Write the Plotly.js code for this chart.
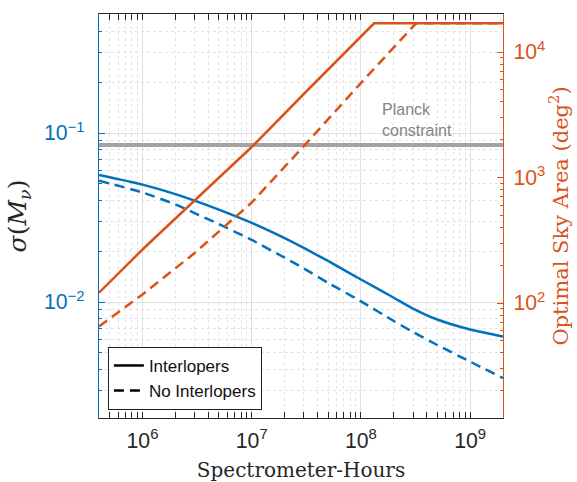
<!DOCTYPE html>
<html>
<head>
<meta charset="utf-8">
<script src="https://cdn.plot.ly/plotly-3.0.1.min.js"></script>
<style>html,body{margin:0;padding:0;background:#fff;}#chart{width:577px;height:482px;}</style>
</head>
<body>
<div id="chart"></div>
<script>
// Spectrometer-hours sample points for sigma curves
const hoursSigma = [4e5, 1e6, 2e6, 3e6, 5e6, 1e7, 2e7, 3e7, 5e7, 1e8, 2e8, 3e8, 5e8, 1e9, 2e9];
// sigma(M_nu), left axis
const sigmaInterlopers   = [0.0564, 0.0495, 0.0435, 0.0398, 0.0352, 0.0294, 0.0239, 0.0209, 0.0175, 0.0136, 0.0106, 0.00915, 0.00788, 0.00688, 0.00625];
const sigmaNoInterlopers = [0.0522, 0.0445, 0.0378, 0.0336, 0.0289, 0.0233, 0.0183, 0.0158, 0.0130, 0.0101, 0.00772, 0.00665, 0.00557, 0.00444, 0.00355];
// Optimal sky area (deg^2), right axis
const hoursAreaInterlopers = [4e5, 1e6, 3e6, 1e7, 3e7, 1e8, 1.32e8, 2e9];
const areaInterlopers      = [121, 267, 656, 1750, 4630, 13170, 16930, 16930];
const hoursAreaNoInterlopers = [4e5, 1e6, 3e6, 1e7, 3e7, 1e8, 3.2e8, 2e9];
const areaNoInterlopers      = [65, 117, 250, 632, 1780, 5660, 16930, 16930];
// Planck constraint
const planckHours = [4e5, 2e9];
const planckSigma = [0.085, 0.085];

const blue = '#0072BD', orange = '#D95319';
const dashPat = '10px,6px';

const traces = [
  {x: planckHours, y: planckSigma, yaxis: 'y', mode: 'lines',
   line: {color: '#a3a3a3', width: 4}, showlegend: false, hoverinfo: 'skip'},
  {x: hoursSigma, y: sigmaInterlopers, yaxis: 'y', mode: 'lines',
   line: {color: blue, width: 2.5, shape: 'spline', smoothing: 0.6}, showlegend: false},
  {x: hoursSigma, y: sigmaNoInterlopers, yaxis: 'y', mode: 'lines',
   line: {color: blue, width: 2.5, dash: dashPat, shape: 'spline', smoothing: 0.6}, showlegend: false},
  {x: hoursAreaInterlopers, y: areaInterlopers, yaxis: 'y2', mode: 'lines',
   line: {color: orange, width: 2.5}, showlegend: false},
  {x: hoursAreaNoInterlopers, y: areaNoInterlopers, yaxis: 'y2', mode: 'lines',
   line: {color: orange, width: 2.5, dash: dashPat}, showlegend: false},
  {x: [null], y: [null], yaxis: 'y', mode: 'lines', name: 'Interlopers',
   line: {color: '#000', width: 2.5}},
  {x: [null], y: [null], yaxis: 'y', mode: 'lines', name: 'No Interlopers',
   line: {color: '#000', width: 2.5, dash: dashPat}}
];

const sans = 'Liberation Sans, Arial, sans-serif';
const serif = 'DejaVu Serif, Liberation Serif, serif';
const layout = {
  width: 577, height: 482,
  margin: {l: 99, r: 74, t: 14, b: 64, pad: 0},
  paper_bgcolor: '#fff', plot_bgcolor: '#fff',
  showlegend: true,
  legend: {x: 0.022, y: 0.02, xanchor: 'left', yanchor: 'bottom',
           bgcolor: '#fff', bordercolor: '#222', borderwidth: 1,
           font: {family: sans, size: 17, color: '#111'},
           itemwidth: 30, tracegroupgap: 0},
  xaxis: {type: 'log', range: [5.602, 9.301], dtick: 1, exponentformat: 'power',
          showline: true, linecolor: '#262626', linewidth: 1, mirror: 'allticks',
          ticks: 'inside', ticklen: 6, tickcolor: '#262626', ticklabelstandoff: 4,
          showgrid: true, gridcolor: '#e0e0e0', gridwidth: 1,
          minor: {ticks: 'inside', ticklen: 3, tickcolor: '#262626', showgrid: true,
                  gridcolor: '#e3e3e3', griddash: 'dot', gridwidth: 1},
          tickfont: {family: sans, size: 17, color: '#262626'},
          zeroline: false,
          title: {text: 'Spectrometer-Hours', standoff: 12,
                  font: {family: serif, size: 20, color: '#262626'}}},
  yaxis: {type: 'log', range: [-2.686, -0.296], dtick: 1, exponentformat: 'power',
          showline: true, linecolor: blue, linewidth: 1,
          ticks: 'inside', ticklen: 6, tickcolor: blue, ticklabelstandoff: 10,
          showgrid: true, gridcolor: '#e0e0e0', gridwidth: 1,
          minor: {ticks: 'inside', ticklen: 3, tickcolor: blue, showgrid: true,
                  gridcolor: '#e3e3e3', griddash: 'dot', gridwidth: 1},
          tickfont: {family: sans, size: 17, color: blue},
          zeroline: false,
          title: {text: '<i>σ</i>(<i>M</i><sub><i>ν</i></sub>)', standoff: 10,
                  font: {family: serif, size: 25, color: '#262626'}}},
  yaxis2: {type: 'log', overlaying: 'y', side: 'right', range: [1.084, 4.303], dtick: 1,
           exponentformat: 'power',
           showline: true, linecolor: orange, linewidth: 1,
           ticks: 'inside', ticklen: 6, tickcolor: orange, ticklabelstandoff: 6,
           showgrid: false,
           minor: {ticks: 'inside', ticklen: 3, tickcolor: orange, showgrid: false},
           tickfont: {family: sans, size: 17, color: orange},
           zeroline: false,
           title: {text: 'Optimal Sky Area (deg<sup>2</sup>)', standoff: 8,
                   font: {family: serif, size: 21, color: orange}}},
  annotations: [
    {xref: 'paper', yref: 'paper', x: 0.696, y: 0.738, xanchor: 'left', yanchor: 'middle',
     text: 'Planck<br>constraint', align: 'left', showarrow: false,
     font: {family: sans, size: 16, color: '#858585'}}
  ]
};

Plotly.newPlot('chart', traces, layout, {displayModeBar: false, staticPlot: true});
</script>
</body>
</html>
